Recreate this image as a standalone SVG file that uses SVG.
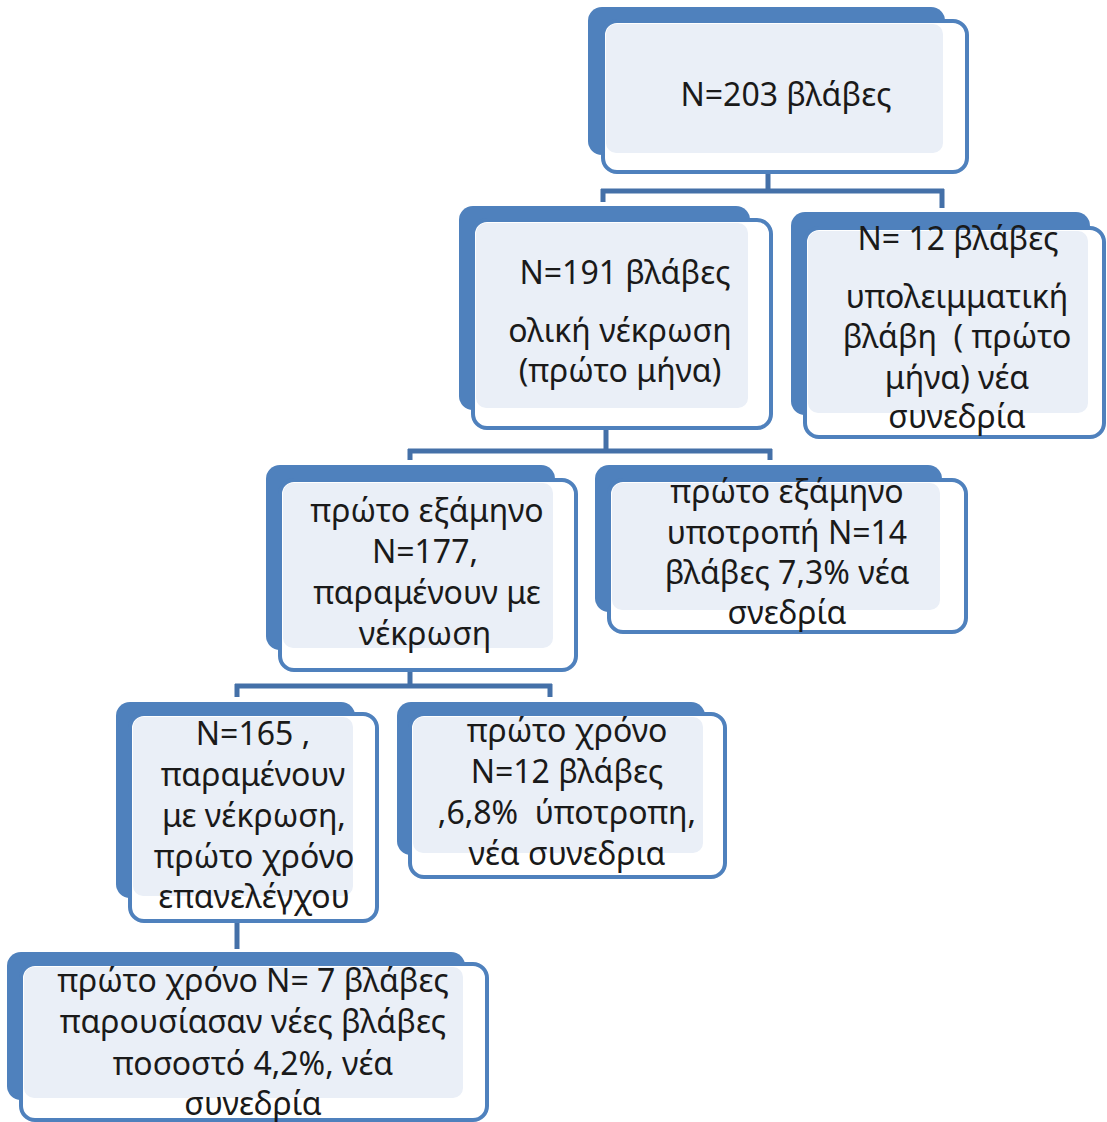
<svg xmlns="http://www.w3.org/2000/svg" width="1107" height="1122" viewBox="0 0 1107 1122">
<style>
.back{fill:#4F81BD}
.front{fill:#FFFFFF;stroke:#4F81BD;stroke-width:4}
.inner{fill:#EAEFF7}
.conn{fill:none;stroke:#4470A8;stroke-width:5}
text{font-family:"Noto Sans","Open Sans","DejaVu Sans",sans-serif;font-size:32px;fill:#1A1A1A;text-anchor:middle;white-space:pre}
</style>
<rect width="1107" height="1122" fill="#FFFFFF"/>
<g id="connectors">
<path class="conn" d="M768,172 V191 M601,191 H944 M603,189 V202 M942,189 V208"/>
<path class="conn" d="M606,428 V451 M408,451 H772 M410,449 V460 M770,449 V460"/>
<path class="conn" d="M410,670 V686 M235,686 H552 M237,684 V697 M550,684 V697"/>
<path class="conn" d="M237,921 V949"/>
</g>
<g id="node1">
<rect class="back" x="588" y="7" width="357" height="148" rx="14"/>
<rect class="front" x="603" y="21" width="364" height="151" rx="14"/>
<rect class="inner" x="606" y="24" width="337" height="129" rx="10"/>
<text x="786" y="106">N=203 βλάβες</text>
</g>
<g id="node2">
<rect class="back" x="459" y="206" width="291" height="204" rx="14"/>
<rect class="front" x="473" y="220" width="298" height="208" rx="14"/>
<rect class="inner" x="476" y="223" width="272" height="185" rx="10"/>
<text x="625" y="284">N=191 βλάβες</text>
<text x="620" y="342">ολική νέκρωση</text>
<text x="620" y="382">(πρώτο μήνα)</text>
</g>
<g id="node3">
<rect class="back" x="791" y="212" width="299" height="203" rx="14"/>
<rect class="front" x="805" y="228" width="299" height="209" rx="14"/>
<rect class="inner" x="808" y="231" width="280" height="182" rx="10"/>
<text x="958" y="250">N= 12 βλάβες</text>
<text x="957" y="308">υπολειμματική</text>
<text x="957" y="348" xml:space="preserve">βλάβη  ( πρώτο</text>
<text x="957" y="389">μήνα) νέα</text>
<text x="957" y="428">συνεδρία</text>
</g>
<g id="node4">
<rect class="back" x="266" y="465" width="289" height="185" rx="14"/>
<rect class="front" x="280" y="480" width="296" height="190" rx="14"/>
<rect class="inner" x="283" y="483" width="270" height="165" rx="10"/>
<text x="427" y="522">πρώτο εξάμηνο</text>
<text x="425" y="563">N=177,</text>
<text x="427" y="604">παραμένουν με</text>
<text x="425" y="645">νέκρωση</text>
</g>
<g id="node5">
<rect class="back" x="595" y="465" width="347" height="147" rx="14"/>
<rect class="front" x="609" y="480" width="357" height="152" rx="14"/>
<rect class="inner" x="612" y="483" width="328" height="127" rx="10"/>
<text x="787" y="503">πρώτο εξάμηνο</text>
<text x="787" y="544">υποτροπή N=14</text>
<text x="787" y="584">βλάβες 7,3% νέα</text>
<text x="787" y="624">σνεδρία</text>
</g>
<g id="node6">
<rect class="back" x="116" y="702" width="239" height="196" rx="14"/>
<rect class="front" x="130" y="714" width="247" height="207" rx="14"/>
<rect class="inner" x="133" y="717" width="220" height="179" rx="10"/>
<text x="253" y="745">N=165 ,</text>
<text x="253" y="786">παραμένουν</text>
<text x="254" y="827">με νέκρωση,</text>
<text x="254" y="868">πρώτο χρόνο</text>
<text x="254" y="908">επανελέγχου</text>
</g>
<g id="node7">
<rect class="back" x="397" y="702" width="308" height="153" rx="14"/>
<rect class="front" x="410" y="714" width="315" height="163" rx="14"/>
<rect class="inner" x="413" y="717" width="290" height="136" rx="10"/>
<text x="567" y="742">πρώτο χρόνο</text>
<text x="567" y="783">N=12 βλάβες</text>
<text x="567" y="824" xml:space="preserve">,6,8%  ύποτροπη,</text>
<text x="567" y="865">νέα συνεδρια</text>
</g>
<g id="node8">
<rect class="back" x="7" y="952" width="458" height="148" rx="14"/>
<rect class="front" x="21" y="964" width="466" height="156" rx="14"/>
<rect class="inner" x="24" y="967" width="439" height="131" rx="10"/>
<text x="253" y="992">πρώτο χρόνο N= 7 βλάβες</text>
<text x="253" y="1033">παρουσίασαν νέες βλάβες</text>
<text x="253" y="1075">ποσοστό 4,2%, νέα</text>
<text x="253" y="1115">συνεδρία</text>
</g>
</svg>
